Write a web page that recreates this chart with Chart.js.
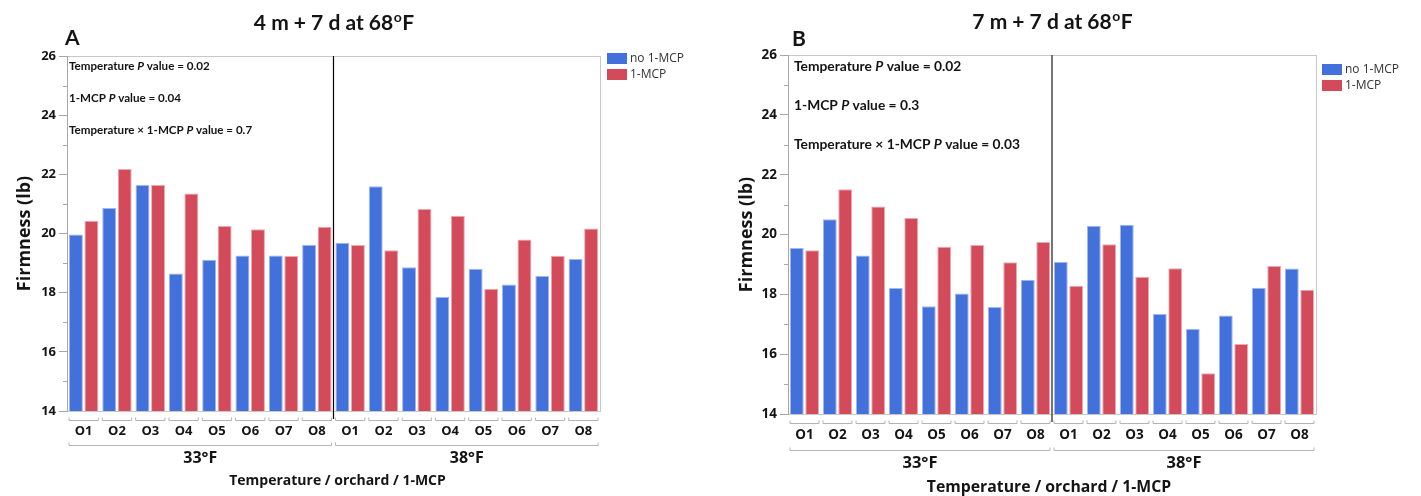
<!DOCTYPE html>
<html>
<head>
<meta charset="utf-8">
<script src="https://cdn.jsdelivr.net/npm/chart.js@4.4.1/dist/chart.umd.min.js"></script>
<style>
  html, body { margin: 0; padding: 0; background: #fff; }
  #wrap { position: relative; width: 1421px; height: 496px; }
  canvas { position: absolute; top: 0; }
  #chartA { left: 0; }
  #chartB { left: 715px; }
</style>
</head>
<body>
<div id="wrap">
  <canvas id="chartA" width="715" height="496"></canvas>
  <canvas id="chartB" width="706" height="496"></canvas>
</div>
<script>
// firmness (lb) per orchard, 33°F block then 38°F block
const orchards = ['O1', 'O2', 'O3', 'O4', 'O5', 'O6', 'O7', 'O8'];
const temps = ['33°F', '38°F'];
const seriesNames = ['no 1-MCP', '1-MCP'];
const yRange = [14, 26];

const noMcpA = [19.97, 20.86, 21.64, 18.65, 19.11, 19.26, 19.26, 19.62,
                19.69, 21.60, 18.86, 17.85, 18.81, 18.28, 18.56, 19.14];
const mcpA   = [20.43, 22.18, 21.64, 21.35, 20.25, 20.14, 19.24, 20.23,
                19.61, 19.43, 20.83, 20.60, 18.13, 19.80, 19.25, 20.17];

const noMcpB = [19.55, 20.51, 19.30, 18.21, 17.60, 18.03, 17.58, 18.49,
                19.08, 20.29, 20.33, 17.34, 16.84, 17.29, 18.22, 18.86];
const mcpB   = [19.47, 21.51, 20.94, 20.55, 19.59, 19.65, 19.07, 19.75,
                18.29, 19.67, 18.59, 18.87, 15.36, 16.34, 18.95, 18.15];

const statsA = [['Temperature ', '0.02'], ['1-MCP ', '0.04'], ['Temperature × 1-MCP ', '0.7']];
const statsB = [['Temperature ', '0.02'], ['1-MCP ', '0.3'], ['Temperature × 1-MCP ', '0.03']];

const catLabels = temps.flatMap(() => orchards);

const BLUE = '#4371dc';
const RED = '#d34a5a';
const INK = '#141414';

const panels = [
  {
    id: 'chartA', letter: 'A', title: '4 m + 7 d at 68', noMcp: noMcpA, mcp: mcpA, stats: statsA,
    top: 56, padRight: 115, yWidth: 67, xHeight: 85, yTitlePad: 14,
    tickSize: 13, xTickPad: 12, statSize: 11.6, statX: 69, statY: [66, 98, 130],
    bracketY: 9, groupY: 34, groupLabelY: 47, axisTitleY: 70, axisTitleSize: 14, axisTitleDx: 4, groupSize: 16,
    divider: '#000', dividerW: 1.2, legendX: 607, legendY: 53, legendH: 11,
    letterX: 65, letterY: 38, titleY: 23
  },
  {
    id: 'chartB', letter: 'B', title: '7 m + 7 d at 68', noMcp: noMcpB, mcp: mcpB, stats: statsB,
    top: 55, padRight: 105, yWidth: 73, xHeight: 82, yTitlePad: 21,
    tickSize: 13.5, xTickPad: 13, statSize: 13.8, statX: 79, statY: [67, 106, 145],
    bracketY: 9, groupY: 36, groupLabelY: 49, axisTitleY: 73, axisTitleSize: 15.8, axisTitleDx: -3, groupSize: 16.5,
    divider: '#555', dividerW: 1.6, legendX: 607, legendY: 64, legendH: 11,
    letterX: 77, letterY: 39, titleY: 22
  }
];

function decor(p) {
  return {
    id: 'decor' + p.letter,
    afterDraw(chart) {
      const ctx = chart.ctx;
      const a = chart.chartArea;
      const x = chart.scales.x;
      const y = chart.scales.y;
      const step = x.getPixelForValue(1) - x.getPixelForValue(0);
      const half = step / 2 - 2;
      ctx.save();

      // plot frame
      ctx.strokeStyle = '#c8c8c8';
      ctx.lineWidth = 1;
      ctx.strokeRect(a.left + 0.5, a.top + 0.5, a.right - a.left, a.bottom - a.top);
      ctx.strokeStyle = '#a8a8a8';
      ctx.beginPath();
      ctx.moveTo(a.left + 0.5, a.top);
      ctx.lineTo(a.left + 0.5, a.bottom + 1);
      ctx.stroke();

      // minor ticks
      for (let v = yRange[0] + 1; v < yRange[1]; v += 2) {
        const py = Math.round(y.getPixelForValue(v)) + 0.5;
        ctx.beginPath();
        ctx.moveTo(a.left - 4, py);
        ctx.lineTo(a.left, py);
        ctx.stroke();
      }

      // temperature divider
      const xm = (x.getPixelForValue(orchards.length - 1) + x.getPixelForValue(orchards.length)) / 2;
      ctx.strokeStyle = p.divider;
      ctx.lineWidth = p.dividerW;
      ctx.beginPath();
      ctx.moveTo(xm, a.top);
      ctx.lineTo(xm, a.bottom + 8);
      ctx.stroke();

      // orchard brackets
      ctx.strokeStyle = '#b4b4b4';
      ctx.lineWidth = 1;
      const by = a.bottom + p.bracketY + 0.5;
      catLabels.forEach((_, i) => {
        const cx = x.getPixelForValue(i);
        ctx.beginPath();
        ctx.moveTo(cx - half, by - 3);
        ctx.lineTo(cx - half, by);
        ctx.lineTo(cx + half, by);
        ctx.lineTo(cx + half, by - 3);
        ctx.stroke();
      });

      // temperature groups
      const gy = a.bottom + p.groupY + 0.5;
      ctx.fillStyle = INK;
      ctx.textAlign = 'center';
      ctx.textBaseline = 'middle';
      temps.forEach((t, g) => {
        const x0 = x.getPixelForValue(g * orchards.length) - half;
        const x1 = x.getPixelForValue(g * orchards.length + orchards.length - 1) + half;
        ctx.beginPath();
        ctx.moveTo(x0, gy - 3);
        ctx.lineTo(x0, gy);
        ctx.lineTo(x1, gy);
        ctx.lineTo(x1, gy - 3);
        ctx.stroke();
        ctx.font = 'bold ' + p.groupSize + 'px "Open Sans"';
        ctx.fillText(t, (x0 + x1) / 2, a.bottom + p.groupLabelY);
      });

      // axis title
      const cxa = (a.left + a.right) / 2;
      ctx.font = 'bold ' + p.axisTitleSize + 'px "Open Sans"';
      ctx.fillText('Temperature / orchard / 1-MCP', cxa + p.axisTitleDx, a.bottom + p.axisTitleY);

      // chart title with superscript o
      ctx.font = 'bold 21px Lato';
      const w1 = ctx.measureText(p.title).width;
      ctx.font = 'bold 14px Lato';
      const w2 = ctx.measureText('o').width;
      ctx.font = 'bold 21px Lato';
      const w3 = ctx.measureText('F').width;
      const tx = cxa - (w1 + w2 + w3) / 2;
      ctx.textAlign = 'left';
      ctx.textBaseline = 'alphabetic';
      ctx.fillText(p.title, tx, p.titleY + 7);
      ctx.font = 'bold 14px Lato';
      ctx.fillText('o', tx + w1 + 0.5, p.titleY - 1.5);
      ctx.font = 'bold 21px Lato';
      ctx.fillText('F', tx + w1 + w2 + 1, p.titleY + 7);

      // panel letter
      ctx.font = 'bold 21px Lato';
      ctx.textBaseline = 'middle';
      ctx.fillText(p.letter, p.letterX, p.letterY);

      // statistics
      p.stats.forEach((s, i) => {
        let sx = p.statX;
        const sy = p.statY[i];
        ctx.font = 'bold ' + p.statSize + 'px Lato';
        ctx.fillText(s[0], sx, sy);
        sx += ctx.measureText(s[0]).width;
        ctx.font = 'italic bold ' + p.statSize + 'px Lato';
        ctx.fillText('P', sx, sy);
        sx += ctx.measureText('P').width;
        ctx.font = 'bold ' + p.statSize + 'px Lato';
        ctx.fillText(' value = ' + s[1], sx, sy);
      });

      // legend
      ctx.font = '12px "Open Sans"';
      [BLUE, RED].forEach((c, i) => {
        const ly = p.legendY + i * 16;
        ctx.fillStyle = c;
        ctx.fillRect(p.legendX, ly, 20, p.legendH);
        ctx.fillStyle = '#333';
        ctx.fillText(seriesNames[i], p.legendX + 23, ly + p.legendH / 2);
      });

      ctx.restore();
    }
  };
}

function makeChart(p) {
  const tickFont = { family: 'Open Sans', weight: 'bold', size: p.tickSize };
  return new Chart(document.getElementById(p.id), {
    type: 'bar',
    data: {
      labels: catLabels,
      datasets: [
        { label: seriesNames[0], data: p.noMcp, backgroundColor: BLUE, borderColor: '#9fb6ee',
          borderWidth: 1, categoryPercentage: 0.93, barPercentage: 0.9 },
        { label: seriesNames[1], data: p.mcp, backgroundColor: RED, borderColor: '#eba9b2',
          borderWidth: 1, categoryPercentage: 0.93, barPercentage: 0.9 }
      ]
    },
    options: {
      responsive: false,
      animation: false,
      devicePixelRatio: 1,
      layout: { padding: { top: p.top, right: p.padRight, left: 0, bottom: 0 } },
      plugins: { legend: { display: false }, tooltip: { enabled: false } },
      scales: {
        x: {
          grid: { display: false, drawTicks: false },
          border: { display: false },
          ticks: { font: tickFont, color: INK, padding: p.xTickPad, autoSkip: false, maxRotation: 0 },
          afterFit: s => { s.height = p.xHeight; }
        },
        y: {
          min: yRange[0], max: yRange[1],
          ticks: { stepSize: 2, font: tickFont, color: INK, padding: 3 },
          grid: { drawOnChartArea: false, tickLength: 8, color: '#a8a8a8' },
          border: { display: false },
          title: {
            display: true, text: 'Firmness (lb)', color: INK,
            font: { family: 'Open Sans', weight: 'bold', size: 18 },
            padding: { top: p.yTitlePad, bottom: 0 }
          },
          afterFit: s => { s.width = p.yWidth; }
        }
      }
    },
    plugins: [decor(p)]
  });
}

panels.forEach(makeChart);
</script>
</body>
</html>
